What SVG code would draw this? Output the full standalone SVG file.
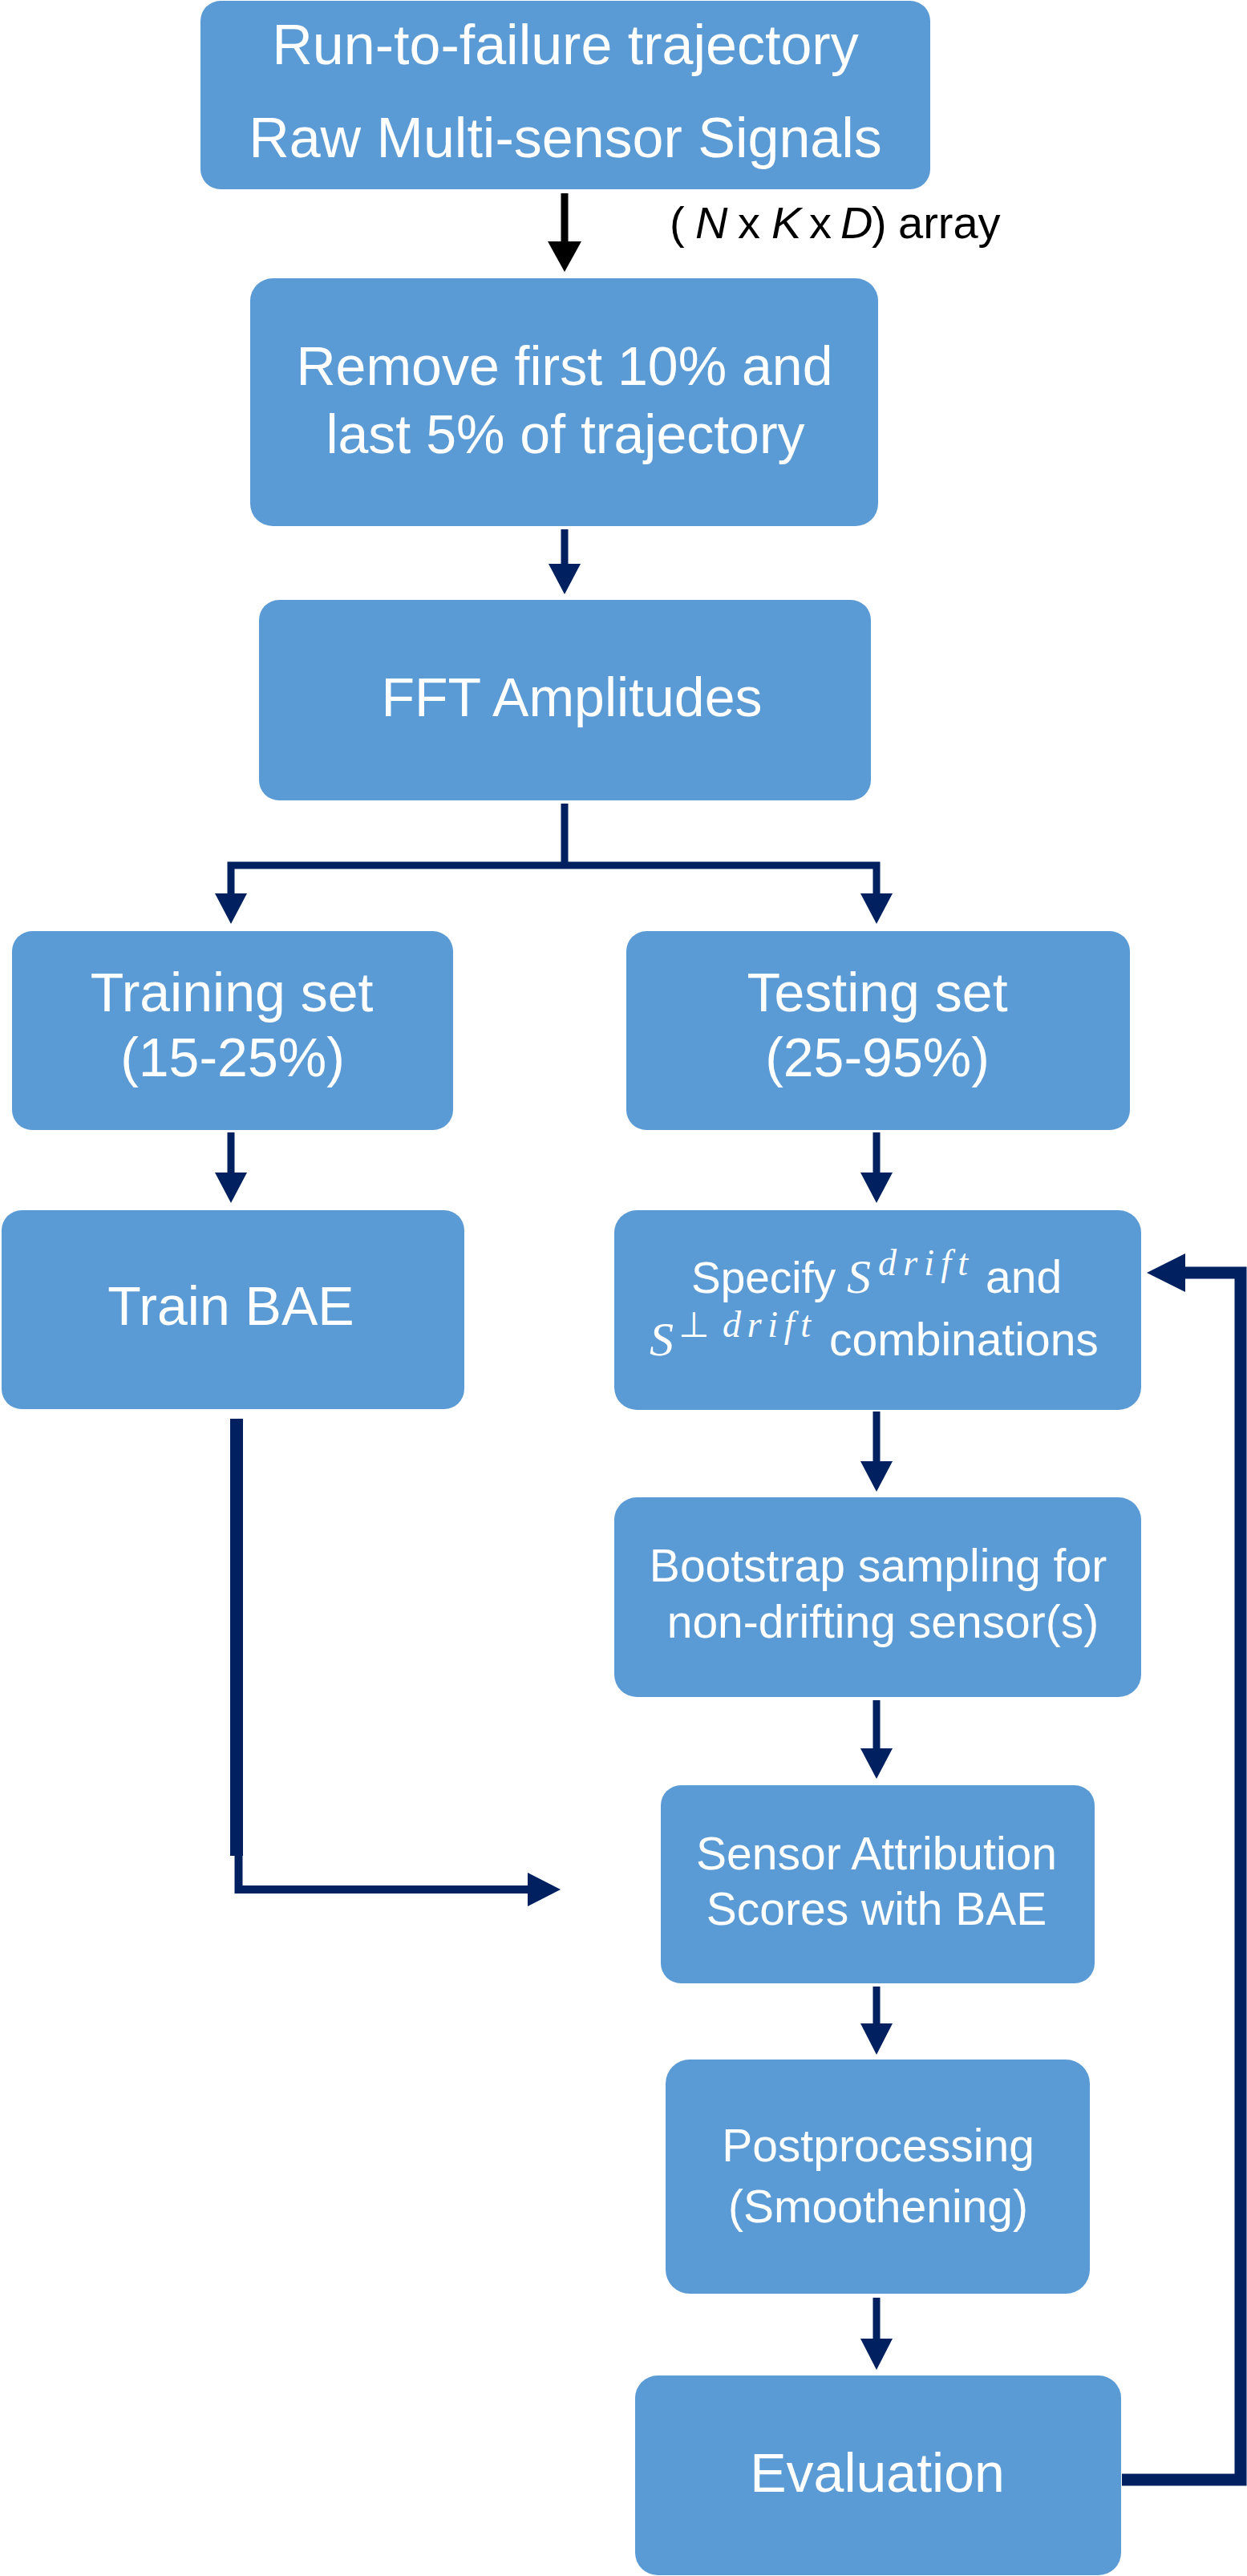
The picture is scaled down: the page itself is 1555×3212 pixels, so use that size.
<svg xmlns="http://www.w3.org/2000/svg" width="1555" height="3212" viewBox="0 0 1555 3212">
<style>
.box{fill:#5B9BD5}
.t{font-family:"Liberation Sans",Arial,sans-serif;fill:#fff;text-anchor:middle}
.st{text-anchor:start}
.big{font-size:68px}
.mid{font-size:57px}
.m{font-family:"Liberation Serif","Times New Roman",serif;font-style:italic;fill:#fff}
.ln{fill:none;stroke:#002060;stroke-width:9}
.hd{fill:#002060}
.lbl{font-family:"Liberation Sans",Arial,sans-serif;font-size:56px;fill:#000}
</style>
<rect width="1555" height="3212" fill="#fff"/>
<g id="connectors">
  <line x1="704" y1="241" x2="704" y2="302" stroke="#000" stroke-width="9"/>
  <polygon points="683,301 725,301 704,339" fill="#000"/>
  <line class="ln" x1="704" y1="660" x2="704" y2="704"/>
  <polygon class="hd" points="684,703 724,703 704,741"/>
  <path class="ln" d="M704,1002 V1079 M288,1115 V1079 H1093 V1115"/>
  <polygon class="hd" points="268,1114 308,1114 288,1152"/>
  <polygon class="hd" points="1073,1114 1113,1114 1093,1152"/>
  <line class="ln" x1="288" y1="1412" x2="288" y2="1463"/>
  <polygon class="hd" points="268,1462 308,1462 288,1500"/>
  <line class="ln" x1="1093" y1="1412" x2="1093" y2="1463"/>
  <polygon class="hd" points="1073,1462 1113,1462 1093,1500"/>
  <line class="ln" x1="1093" y1="1760" x2="1093" y2="1823"/>
  <polygon class="hd" points="1073,1822 1113,1822 1093,1860"/>
  <line class="ln" x1="1093" y1="2120" x2="1093" y2="2181"/>
  <polygon class="hd" points="1073,2180 1113,2180 1093,2218"/>
  <line class="ln" x1="1093" y1="2477" x2="1093" y2="2524"/>
  <polygon class="hd" points="1073,2523 1113,2523 1093,2562"/>
  <line class="ln" x1="1093" y1="2865" x2="1093" y2="2917"/>
  <polygon class="hd" points="1073,2916 1113,2916 1093,2955"/>
  <line x1="295" y1="1769" x2="295" y2="2314" stroke="#002060" stroke-width="16"/>
  <path d="M297.5,2314 V2356 H659" fill="none" stroke="#002060" stroke-width="10"/>
  <polygon class="hd" points="658,2335 658,2377 699,2356"/>
  <path d="M1399,3092 H1547 V1587 H1477" fill="none" stroke="#002060" stroke-width="15" stroke-linejoin="miter"/>
  <polygon class="hd" points="1478,1563 1478,1611 1430,1587"/>
  <text class="lbl" y="297"><tspan x="835">(</tspan><tspan x="867" font-style="italic">N</tspan><tspan x="920">x</tspan><tspan x="962" font-style="italic">K</tspan><tspan x="1009">x</tspan><tspan x="1048" font-style="italic">D</tspan><tspan x="1087">)</tspan><tspan x="1120">array</tspan></text>
</g>
<g id="n1">
  <rect class="box" x="250" y="1" width="910" height="235" rx="25"/>
  <text class="t" x="705" y="80" font-size="70">Run-to-failure trajectory</text>
  <text class="t" x="705" y="196" font-size="70">Raw Multi-sensor Signals</text>
</g>
<g id="n2">
  <rect class="box" x="312" y="347" width="783" height="309" rx="28"/>
  <text class="t big" x="704" y="480">Remove first 10% and</text>
  <text class="t big" x="705" y="565">last 5% of trajectory</text>
</g>
<g id="n3">
  <rect class="box" x="323" y="748" width="763" height="250" rx="25"/>
  <text class="t big" x="713" y="893">FFT Amplitudes</text>
</g>
<g id="n4">
  <rect class="box" x="15" y="1161" width="550" height="248" rx="25"/>
  <text class="t big" x="289" y="1261">Training set</text>
  <text class="t big" x="290" y="1342">(15-25%)</text>
</g>
<g id="n5">
  <rect class="box" x="781" y="1161" width="628" height="248" rx="25"/>
  <text class="t big" x="1094" y="1261">Testing set</text>
  <text class="t big" x="1094" y="1342">(25-95%)</text>
</g>
<g id="n6">
  <rect class="box" x="2" y="1509" width="577" height="248" rx="25"/>
  <text class="t big" x="288" y="1652">Train BAE</text>
</g>
<g id="n7">
  <rect class="box" x="766" y="1509" width="657" height="249" rx="28"/>
  <text class="t st" x="862" y="1612" font-size="55">Specify</text>
  <text class="m" x="1056" y="1612" font-size="60">S</text>
  <text class="m" x="1095" y="1590" font-size="46" textLength="112" lengthAdjust="spacing">drift</text>
  <text class="t st mid" x="1229" y="1612">and</text>
  <text class="m" x="810" y="1690" font-size="60">S</text>
  <text x="846" y="1667" font-family="DejaVu Sans,sans-serif" font-size="44" fill="#fff">⊥</text>
  <text class="m" x="901" y="1667" font-size="46" textLength="110" lengthAdjust="spacing">drift</text>
  <text class="t st mid" x="1034" y="1690">combinations</text>
</g>
<g id="n8">
  <rect class="box" x="766" y="1867" width="657" height="249" rx="28"/>
  <text class="t mid" x="1095" y="1972">Bootstrap sampling for</text>
  <text class="t mid" x="1101" y="2042">non-drifting sensor(s)</text>
</g>
<g id="n9">
  <rect class="box" x="824" y="2226" width="541" height="247" rx="25"/>
  <text class="t mid" x="1093" y="2331">Sensor Attribution</text>
  <text class="t mid" x="1093" y="2400">Scores with BAE</text>
</g>
<g id="n10">
  <rect class="box" x="830" y="2568" width="529" height="292" rx="30"/>
  <text class="t mid" x="1095" y="2695" font-size="60">Postprocessing</text>
  <text class="t mid" x="1095" y="2771" font-size="60">(Smoothening)</text>
</g>
<g id="n11">
  <rect class="box" x="792" y="2962" width="606" height="249" rx="28"/>
  <text class="t big" x="1094" y="3107">Evaluation</text>
</g>
</svg>
